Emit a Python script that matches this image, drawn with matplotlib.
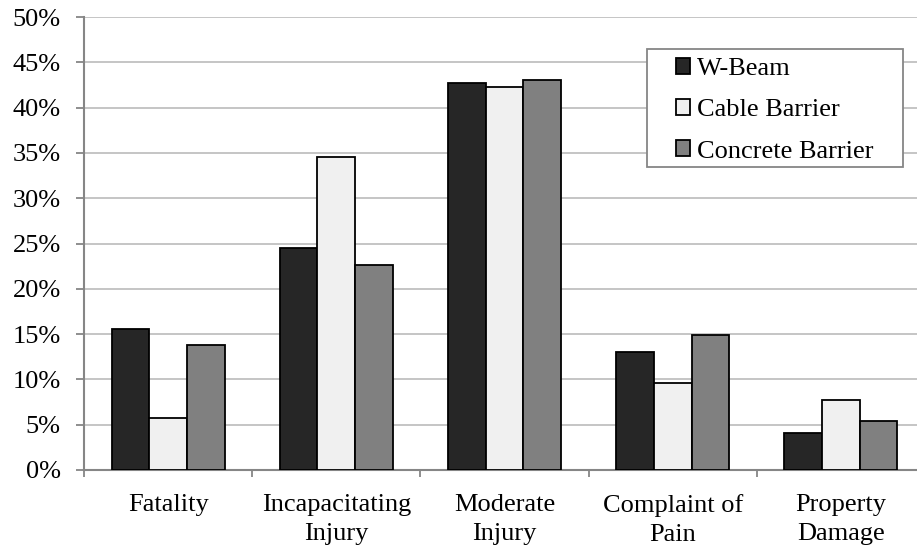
import matplotlib
matplotlib.use("Agg")
import matplotlib.pyplot as plt
import matplotlib.patches as mpatches
import numpy as np

plt.rcParams['font.family'] = ['Liberation Serif', 'DejaVu Serif']

categories = ['Fatality', 'Incapacitating\nInjury', 'Moderate\nInjury',
              'Complaint of\nPain', 'Property\nDamage']
series_names = ['W-Beam', 'Cable Barrier', 'Concrete Barrier']
w_beam = [15.6, 24.5, 42.7, 13.0, 4.1]
cable = [5.7, 34.6, 42.3, 9.6, 7.7]
concrete = [13.8, 22.6, 43.0, 14.9, 5.4]
colors = ['#262626', '#f0f0f0', '#808080']

axis_gray = '#868686'
grid_gray = '#c0c0c0'
fs = 19

fig = plt.figure(figsize=(9.17, 5.48), dpi=100)
ax = fig.add_axes([84 / 917, 78 / 548, 841 / 917, 453 / 548])

x = np.arange(len(categories))
width = 0.224
for i, (vals, name) in enumerate(zip([w_beam, cable, concrete], series_names)):
    ax.bar(x + (i - 1) * width, vals, width, color=colors[i], edgecolor='black',
           linewidth=1.3, label=name, zorder=3)

ax.set_xlim(-0.5, len(categories) - 0.5)
ax.set_ylim(0, 50)
ax.set_yticks(np.arange(0, 51, 5))
ax.set_yticklabels([f'{v}%' for v in range(0, 51, 5)], fontsize=fs)
ax.yaxis.grid(True, color=grid_gray, linewidth=1.3, zorder=0)
ax.tick_params(axis='y', length=5.8, width=1.3, color=axis_gray, pad=11)

ax.set_xticks(x)
ax.set_xticklabels(categories, fontsize=fs, linespacing=1.45)
ax.tick_params(axis='x', which='major', length=0, pad=17)
ax.set_xticks(np.arange(-0.5, len(categories), 1), minor=True)
ax.tick_params(axis='x', which='minor', length=5, width=1.3, color=axis_gray)

for side in ['top', 'right']:
    ax.spines[side].set_visible(False)
for side in ['left', 'bottom']:
    ax.spines[side].set_color(axis_gray)
    ax.spines[side].set_linewidth(1.5)
ax.set_axisbelow(True)

# legend box drawn separately so the padding can match the original
ax.add_patch(mpatches.Rectangle((647 / 917, 1 - 167 / 548), 256 / 917, 118 / 548,
                                transform=fig.transFigure, facecolor='white',
                                edgecolor=axis_gray, linewidth=1.3, zorder=4,
                                clip_on=False))
leg = ax.legend(loc='upper left', bbox_to_anchor=(668 / 917, 1 - 50 / 548),
                bbox_transform=fig.transFigure, frameon=False, fontsize=fs,
                handlelength=0.55, handleheight=0.55, handletextpad=0.25,
                labelspacing=0.72, borderpad=0.3, borderaxespad=0)
for h in leg.legend_handles:
    h.set_linewidth(1.3)
leg.set_zorder(5)

fig.savefig('out.png', dpi=100)
